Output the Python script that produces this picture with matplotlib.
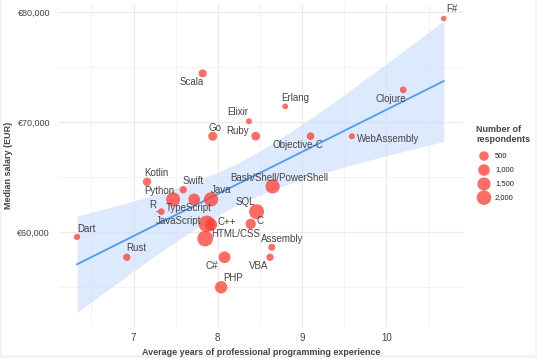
import numpy as np
import matplotlib
matplotlib.use("Agg")
import matplotlib.pyplot as plt
from matplotlib.patches import Rectangle
from matplotlib.ticker import FuncFormatter, MultipleLocator

plt.rcParams['font.family'] = ['Liberation Sans', 'DejaVu Sans']

# ---- data ----
languages = ["F#", "Scala", "Elixir", "Go", "Ruby", "Erlang", "Clojure", "Objective-C",
             "WebAssembly", "Kotlin", "Swift", "Python", "TypeScript", "Java", "R", "SQL",
             "JavaScript", "C++", "C", "HTML/CSS", "Dart", "Rust", "C#", "PHP",
             "Bash/Shell/PowerShell", "Assembly", "VBA"]
experience = [10.68, 7.82, 8.37, 7.94, 8.45, 8.80, 10.20, 9.10,
              9.59, 7.16, 7.59, 7.47, 7.72, 7.92, 7.33, 8.46,
              7.87, 7.92, 8.39, 7.85, 6.33, 6.92, 8.08, 8.04,
              8.65, 8.64, 8.62]
salary = [79450, 74450, 70090, 68730, 68730, 71450, 72950, 68730,
          68730, 64580, 63860, 62980, 62980, 62980, 61860, 61860,
          60750, 60680, 60750, 59410, 59560, 57710, 57710, 54980,
          64160, 58620, 57710]
respondents = [20, 245, 45, 400, 350, 30, 100, 200,
               50, 290, 160, 1800, 1030, 1920, 100, 2200,
               2950, 1200, 680, 2500, 65, 160, 1030, 1230,
               1900, 125, 160]
legend_counts = [500, 1000, 1500, 2000]
legend_labels = ["500", "1,000", "1,500", "2,000"]
x_ticks = [7, 8, 9, 10]
y_ticks = [60000, 70000, 80000]

# label offsets (pixels, relative to point) and alignment
label_style = {
    "F#": (8, -9.5, "center"), "Scala": (-11, 9, "center"), "Elixir": (-11.5, -9, "center"),
    "Go": (2.5, -8.5, "center"), "Ruby": (-18, -5.5, "center"), "Erlang": (10, -8.5, "center"),
    "Clojure": (-12, 9, "center"), "Objective-C": (-13, 9, "center"),
    "WebAssembly": (5, 3, "left"), "Kotlin": (9.5, -8.5, "center"), "Swift": (10, -9, "center"),
    "Python": (-13.5, -8, "center"), "TypeScript": (-5, 9, "center"), "Java": (10, -9, "center"),
    "R": (-8.5, -7, "center"), "SQL": (-11, -9.5, "center"), "JavaScript": (-6, -2.6, "right"),
    "C++": (6, -3, "left"), "C": (9.5, -3, "center"), "HTML/CSS": (6.3, -4.3, "left"),
    "Dart": (9.7, -8.3, "center"), "Rust": (10, -9, "center"), "C#": (-13, 8.5, "center"),
    "PHP": (11.7, -9.4, "center"), "Bash/Shell/PowerShell": (6.7, -8.4, "center"),
    "Assembly": (10.5, -8.7, "center"), "VBA": (-11.3, 9, "center"),
}

W, H, DPI = 537, 358, 100
PX = 72.0 / DPI  # points per pixel


def marker_area(n):
    d_px = 4.5 + 0.2236 * np.sqrt(np.asarray(n, dtype=float))
    return (d_px * PX) ** 2


POINT_COLOR = "#ff3b30"
POINT_ALPHA = 0.75
TEXT_COLOR = "#444444"

fig = plt.figure(figsize=(W / DPI, H / DPI), dpi=DPI, facecolor="#f3f3f3")
bg = fig.add_axes([0, 0, 1, 1], zorder=-10)
bg.set_xlim(0, W); bg.set_ylim(H, 0); bg.axis("off")
bg.add_patch(Rectangle((2, 0), W - 4, H - 3, facecolor="white", edgecolor="none"))

ax = fig.add_axes([59 / W, 31 / H, (463 - 59) / W, (327 - 4) / H])
ax.set_facecolor("white")
for s in ax.spines.values():
    s.set_visible(False)

x = np.array(experience)
y = np.array(salary)

# regression + 95% CI
n = len(x)
b1, b0 = np.polyfit(x, y, 1)
xs = np.linspace(x.min(), x.max(), 200)
yfit = b0 + b1 * xs
resid = y - (b0 + b1 * x)
s_err = np.sqrt(np.sum(resid ** 2) / (n - 2))
sxx = np.sum((x - x.mean()) ** 2)
tval = 2.060
ci = tval * s_err * np.sqrt(1.0 / n + (xs - x.mean()) ** 2 / sxx)
ax.fill_between(xs, yfit - ci, yfit + ci, color="#cfe0fb", alpha=0.7, linewidth=0, zorder=1)
ax.plot(xs, yfit, color="#4f9bf5", linewidth=1.3, zorder=2)

ax.scatter(x, y, s=marker_area(respondents), color=POINT_COLOR, alpha=POINT_ALPHA,
           linewidths=0, zorder=3)

for lang, xi, yi in zip(languages, x, y):
    dx, dy, ha = label_style[lang]
    ax.annotate(lang, (xi, yi), xytext=(dx * PX, -dy * PX), textcoords="offset points",
                ha=ha, va="center", fontsize=7, color=TEXT_COLOR, zorder=4)
    if lang == "R":
        ax.annotate("", (xi, yi), xytext=(-5 * PX, 0), textcoords="offset points",
                    arrowprops=dict(arrowstyle="-", color="#666666", lw=0.6,
                                    shrinkA=0, shrinkB=2))

ax.set_xlim(6.116, 10.909)
ax.set_ylim(51360, 80770)
ax.set_xticks(x_ticks)
ax.set_yticks(y_ticks)
ax.xaxis.set_minor_locator(MultipleLocator(0.5))
ax.yaxis.set_minor_locator(MultipleLocator(5000))
ax.yaxis.set_major_formatter(FuncFormatter(lambda v, p: "€{:,.0f}".format(v)))
ax.grid(which="major", color="#ebebeb", linewidth=0.8)
ax.grid(which="minor", color="#f3f3f3", linewidth=0.8)
ax.set_axisbelow(True)
ax.tick_params(which="both", length=0)
ax.tick_params(axis="x", pad=4, labelsize=7, labelcolor=TEXT_COLOR)
ax.tick_params(axis="y", pad=6.5, labelsize=6.5, labelcolor=TEXT_COLOR)
ax.set_xlabel("Average years of professional programming experience", fontsize=6.5,
              fontweight="bold", color=TEXT_COLOR, labelpad=4)
ax.set_ylabel("Median salary (EUR)", fontsize=6.5, fontweight="bold", color=TEXT_COLOR,
              labelpad=3)

# legend
bg2 = fig.add_axes([0, 0, 1, 1], zorder=5)
bg2.set_xlim(0, W); bg2.set_ylim(H, 0); bg2.axis("off")
bg2.text(476.5, 125, "Number of\nrespondents", fontsize=6.5, fontweight="bold",
         color=TEXT_COLOR, va="top", ha="left", linespacing=1.15)
leg_y = [156, 170, 184, 197.7]
bg2.scatter([484] * 4, leg_y, s=marker_area(legend_counts), color=POINT_COLOR,
            alpha=POINT_ALPHA, linewidths=0)
for ly, lab in zip(leg_y, legend_labels):
    bg2.text(495, ly, lab, fontsize=5.5, color="#222222", va="center", ha="left")

fig.savefig("out.png", dpi=DPI, facecolor=fig.get_facecolor())
